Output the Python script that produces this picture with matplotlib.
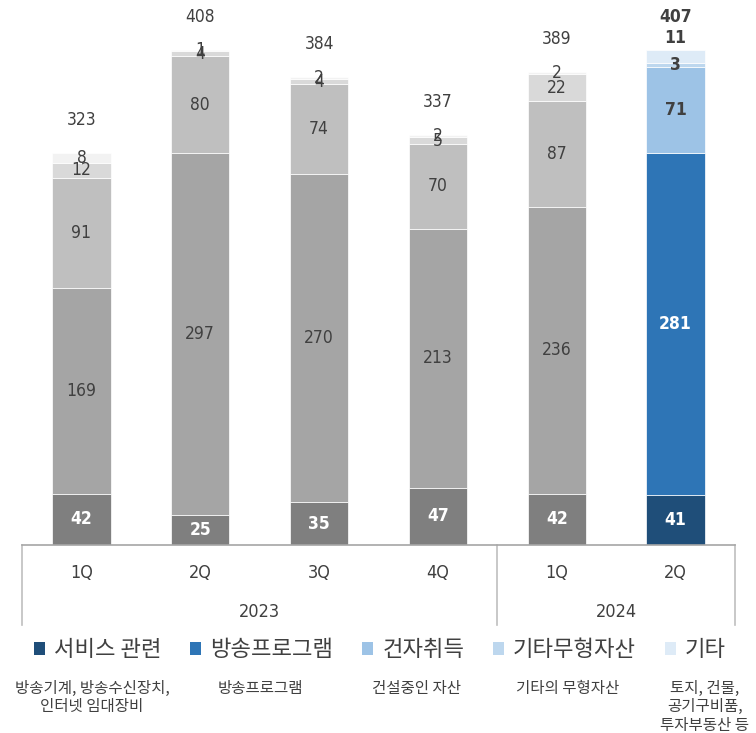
import matplotlib
matplotlib.use("Agg")
import matplotlib.pyplot as plt
import matplotlib.font_manager as fm
from matplotlib.patches import Patch
import numpy as np

# ---------------- data ----------------
quarters = ["1Q", "2Q", "3Q", "4Q", "1Q", "2Q"]
years = ["2023", "2024"]
year_spans = [(0, 3), (4, 5)]
series_names = ["서비스 관련", "방송프로그램", "건자취득", "기타무형자산", "기타"]
service = [42, 25, 35, 47, 42, 41]
program = [169, 297, 270, 213, 236, 281]
construction = [91, 80, 74, 70, 87, 71]
other_intangible = [12, 4, 4, 5, 22, 3]
other = [8, 1, 2, 2, 2, 11]
totals = [323, 408, 384, 337, 389, 407]
descriptions = ["방송기계, 방송수신장치,\n인터넷 임대장비", "방송프로그램", "건설중인 자산",
                "기타의 무형자산", "토지, 건물,\n공기구비품,\n투자부동산 등"]

gray_colors = ["#7f7f7f", "#a5a5a5", "#bfbfbf", "#d9d9d9", "#f2f2f2"]
blue_colors = ["#1f4e79", "#2e75b6", "#9dc3e6", "#bdd7ee", "#deebf7"]
highlight = 5  # 2Q 2024 index

# ---------------- fonts ----------------
ttf = fm.fontManager.ttflist
names = {f.name for f in ttf}
if "Liberation Sans Narrow" in names:
    num_font = dict(family="Liberation Sans Narrow")
elif any(f.name == "DejaVu Sans" and f.stretch == "condensed" for f in ttf):
    num_font = dict(family="DejaVu Sans", stretch="condensed")
else:
    num_font = dict(family="Liberation Sans")

plt.rcParams["font.family"] = ["Noto Sans CJK KR", "DejaVu Sans"]
TXT = "#404040"

W, H = 756, 733
fig = plt.figure(figsize=(W / 100, H / 100), dpi=100)
base_px = 545
ax = fig.add_axes([22 / W, (H - base_px) / H, 713 / W, base_px / H])
ax.set_xlim(-0.5, 5.5)
ax.set_ylim(0, 448)
for s in ["top", "right", "left"]:
    ax.spines[s].set_visible(False)
ax.spines["bottom"].set_color("#a6a6a6")
ax.spines["bottom"].set_linewidth(1.2)
ax.set_xticks([])
ax.set_yticks([])

NUM_FS = 12.5
x = np.arange(len(quarters))
stack = [service, program, construction, other_intangible, other]
bottom = np.zeros(len(x))
for si, vals in enumerate(stack):
    vals = np.array(vals, dtype=float)
    cols = [blue_colors[si] if i == highlight else gray_colors[si] for i in range(len(x))]
    ax.bar(x, vals, bottom=bottom, width=0.49, color=cols, edgecolor="white", linewidth=0.5)
    for i in range(len(x)):
        hl = i == highlight
        if si == 0:
            color, weight = "white", "bold"
        elif si == 1 and hl:
            color, weight = "white", "bold"
        else:
            color, weight = TXT, ("bold" if hl else "normal")
        yc = bottom[i] + vals[i] / 2
        if si == 4 and hl:
            yc = bottom[i] + vals[i] + 10
        ax.text(x[i], yc, f"{int(vals[i])}", ha="center", va="center", fontsize=NUM_FS,
                color=color, fontweight=weight, **num_font)
    bottom += vals

for i in range(len(x)):
    hl = i == highlight
    ax.text(x[i], bottom[i] + 27, f"{totals[i]}", ha="center", va="center", fontsize=NUM_FS,
            color=TXT, fontweight=("bold" if hl else "normal"), **num_font)

# category axis box
tr = ax.get_xaxis_transform()
box_depth = -(625 - base_px) / base_px
for xv in [-0.5, 3.5, 5.5]:
    ax.plot([xv, xv], [0, box_depth], transform=tr, color="#bfbfbf", lw=1.2, clip_on=False)
q_y = -(573 - base_px) / base_px
y_y = -(612 - base_px) / base_px
for i, q in enumerate(quarters):
    ax.text(x[i], q_y, q, transform=tr, ha="center", va="center", fontsize=13, color=TXT, **num_font)
for yr, (a, b) in zip(years, year_spans):
    ax.text((a + b) / 2, y_y, yr, transform=tr, ha="center", va="center", fontsize=13, color=TXT, **num_font)

# legend
handles = [Patch(facecolor=c, edgecolor="none") for c in blue_colors]
leg = fig.legend(handles, series_names, loc="center", bbox_to_anchor=(380 / W, 1 - 650 / H),
                 ncol=5, frameon=False, fontsize=16, handlelength=0.5, handleheight=0.5,
                 handletextpad=0.4, columnspacing=1.3, labelcolor=TXT)

desc_x = [92, 260, 416, 568, 705]
for dx, d in zip(desc_x, descriptions):
    fig.text(dx / W, 1 - 680 / H, d, ha="center", va="top", fontsize=11.2, color=TXT,
             linespacing=1.1)

fig.savefig("out.png", dpi=100)
